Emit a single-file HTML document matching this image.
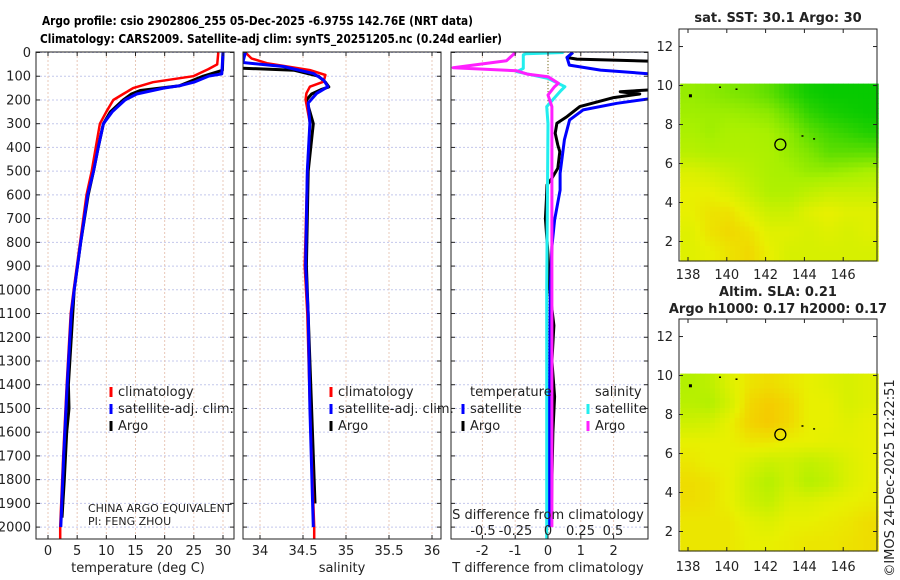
<!DOCTYPE html>
<html><head><meta charset="utf-8"><style>
html,body{margin:0;padding:0;background:#fff}
svg{display:block;font-family:"DejaVu Sans","Liberation Sans",sans-serif}
</style></head><body>
<svg id="fig" width="900" height="580" viewBox="0 0 900 580">
<text x="42" y="25" font-size="12.5" font-weight="bold" textLength="431" lengthAdjust="spacingAndGlyphs">Argo profile: csio 2902806_255 05-Dec-2025 -6.975S 142.76E (NRT data)</text>
<text x="40" y="43" font-size="12.5" font-weight="bold" textLength="462" lengthAdjust="spacingAndGlyphs">Climatology: CARS2009. Satellite-adj clim: synTS_20251205.nc (0.24d earlier)</text>
<g id="root"></g>
</svg>
<script>
// ---------- data ----------
const depthTicks=[0,100,200,300,400,500,600,700,800,900,1000,1100,1200,1300,1400,1500,1600,1700,1800,1900,2000];
const tTicks=[0,5,10,15,20,25,30];
const sTicks=[34,34.5,35,35.5,36];
const sTickLabels=["34","34.5","35","35.5","36"];
const dtTicks=[-2,-1,0,1,2];
const dsTicks=[-0.5,-0.25,0,0.25,0.5];
const dsTickLabels=["-0.5","-0.25","0","0.25","0.5"];

const climTdepth=[0,50,70,100,125,150,175,200,250,300,400,500,600,800,1000,1100,1400,1700,2000,2050];
const climT=[29.2,29,27.5,24.9,18,14.6,12.9,11.2,10,8.9,8.2,7.5,6.6,5.5,4.4,3.9,3.2,2.6,2.1,2.1];
const satTdepth=[0,90,100,125,140,150,175,200,250,300,400,500,600,800,1000,1100,1400,1700,2000];
const satT=[30,29.8,27.5,25,22.6,19.8,15.2,13.2,11,9.5,8.6,7.8,6.8,5.6,4.5,4.0,3.3,2.7,2.2];
const argoTdepth=[0,75,100,140,160,175,200,250,300,400,500,600,800,1000,1200,1400,1500,1600,1800,1960];
const argoT=[30,29.9,26.6,22.6,15.8,14.3,12.9,10.7,9.5,8.6,7.8,6.9,5.6,4.5,4.0,3.5,3.6,3.2,2.8,2.4];

const climSdepth=[0,25,45,74,95,123,144,172,199,297,500,900,1100,1500,2000,2050];
const climS=[33.83,33.9,34.08,34.58,34.76,34.74,34.58,34.54,34.53,34.58,34.55,34.52,34.55,34.58,34.63,34.63];
const satSdepth=[0,42,59,88,116,144,172,213,297,500,900,1100,1500,2000];
const satS=[33.83,33.8,34.27,34.62,34.74,34.79,34.66,34.56,34.58,34.55,34.53,34.56,34.58,34.62];
const argoSdepth=[0,60,66,75,100,125,145,155,175,200,250,300,500,900,1200,1500,1900];
const argoS=[33.5,33.5,33.8,34.4,34.68,34.76,34.8,34.72,34.6,34.54,34.58,34.62,34.56,34.54,34.57,34.6,34.64];

const satDTdepth=[0,21,53,74,91,150,193,214,242,284,368,509,580,706,818,1000,1400,2000];
const satDT=[0.76,0.58,0.65,1.6,3.2,4,3.2,2.1,1.07,0.66,0.5,0.37,0.37,0.2,0.12,0.07,0.05,0.03];
const argoDTdepth=[0,21,28,40,150,165,175,190,228,270,298,340,390,418,488,530,558,620,700,850,1000,1150,1300,1450,1600,1800,1960];
const argoDT=[0.76,0.58,0.88,4,4,2.2,2.8,2.0,0.97,0.58,0.27,0.22,0.3,0.36,0.3,0.12,-0.03,-0.05,-0.08,0.0,0.05,0.18,0.12,0.2,0.15,0.12,0.1];
const satDSdepth=[0,5,10,67,81,109,144,160,228,300,1000,2050];
const satDS=[0.12,-0.17,-0.19,-0.19,-0.24,0.0,0.13,0.1,-0.01,0.0,-0.01,-0.01];
const argoDSdepth=[0,35,64,77,91,102,130,144,179,228,600,1000,1500,2000];
const argoDS=[-0.25,-0.32,-0.73,-0.24,-0.16,0.0,0.08,0.05,0.0,0.03,0.03,0.03,0.03,0.03];

const sstGrid=[
[0.45,0.42,0.38,0.35,0.28,0.15,0.05,0.02,0.02,0.02],
[0.48,0.47,0.47,0.45,0.42,0.3,0.15,0.08,0.05,0.03],
[0.52,0.48,0.52,0.52,0.5,0.42,0.28,0.2,0.15,0.1],
[0.58,0.54,0.54,0.54,0.52,0.45,0.38,0.28,0.28,0.28],
[0.74,0.7,0.64,0.58,0.52,0.5,0.45,0.45,0.48,0.52],
[0.8,0.8,0.74,0.64,0.54,0.54,0.6,0.65,0.65,0.65],
[0.8,0.85,0.86,0.76,0.66,0.66,0.76,0.8,0.76,0.76],
[0.76,0.86,0.9,0.86,0.76,0.76,0.72,0.76,0.72,0.76],
[0.76,0.8,0.86,0.9,0.8,0.72,0.72,0.72,0.72,0.72]];
const slaGrid=[
[0.55,0.6,0.75,0.85,0.88,0.84,0.8,0.76,0.72,0.76],
[0.58,0.55,0.7,0.9,0.95,0.9,0.8,0.8,0.72,0.76],
[0.68,0.7,0.8,0.92,0.96,0.9,0.8,0.8,0.76,0.8],
[0.8,0.8,0.8,0.84,0.84,0.8,0.8,0.78,0.78,0.8],
[0.84,0.8,0.8,0.72,0.66,0.68,0.62,0.66,0.74,0.8],
[0.88,0.86,0.8,0.66,0.56,0.68,0.56,0.62,0.74,0.8],
[0.88,0.86,0.8,0.68,0.62,0.74,0.74,0.78,0.8,0.82],
[0.84,0.84,0.84,0.78,0.74,0.8,0.8,0.82,0.84,0.88],
[0.84,0.84,0.84,0.8,0.8,0.82,0.84,0.84,0.86,0.88]];
const latTicks=[2,4,6,8,10,12];
const lonTicks=[138,140,142,144,146];
const argoLon=142.76, argoLat=6.975;
const markLon=[138.1,139.65,140.5,143.9,144.5];
const markLat=[9.5,9.9,9.8,7.4,7.25];

// ---------- helpers ----------
const NS="http://www.w3.org/2000/svg";
const root=document.getElementById('root');
function mk(tag,attrs,parent){const e=document.createElementNS(NS,tag);for(const k in attrs)e.setAttribute(k,attrs[k]);(parent||root).appendChild(e);return e;}
const Y=d=>52.5+d*0.2373;
const XT=t=>48+t*5.833;
const XS=s=>260+(s-34)*86;
const XDT=v=>548+v*32.8;
const XDS=v=>548+v*130;
const PT=52, PB=539;
const panels=[{x0:36,x1:234,n:'temperature'},{x0:243,x1:441,n:'salinity'},{x0:451,x1:648,n:'difference'}];

const defs=mk('defs',{});
panels.forEach((p,i)=>{const c=mk('clipPath',{id:'clip'+i},defs);mk('rect',{x:p.x0,y:PT,width:p.x1-p.x0,height:PB-PT},c);});

panels.forEach((p,i)=>{
  const g=mk('g',{});
  
  
  depthTicks.forEach(d=>{mk('line',{x1:p.x0,x2:p.x1,y1:Y(d),y2:Y(d),stroke:'#c4c8ec','stroke-width':1,'stroke-dasharray':'2 2'},g);});
  const xs= i==0?tTicks.map(XT): i==1?sTicks.map(XS): dtTicks.map(XDT);
  xs.forEach(x=>{mk('line',{x1:x,x2:x,y1:PT,y2:PB,stroke:'#e8c8b8','stroke-width':1,'stroke-dasharray':'2 2'},g);});
});
const zl=mk('line',{x1:548,x2:548,y1:PT,y2:PB,stroke:'#707020','stroke-width':1,'stroke-dasharray':'1 2'});



function line(xs,ds,xf,color,w,clip,name){
  let pts=xs.map((v,i)=>xf(v).toFixed(1)+','+Y(ds[i]).toFixed(1)).join(' ');
  const e=mk('polyline',{points:pts,fill:'none',stroke:color,'stroke-width':w,'stroke-linejoin':'round','clip-path':'url(#clip'+clip+')'});
  
  
}
line(argoT,argoTdepth,XT,'#000',3,0,'argo-temperature-line');
line(climT,climTdepth,XT,'#f00',2.5,0,'climatology-temperature-line');
line(satT,satTdepth,XT,'#00f',3,0,'satellite-temperature-line');
line(argoS,argoSdepth,XS,'#000',3,1,'argo-salinity-line');
line(climS,climSdepth,XS,'#f00',2.5,1,'climatology-salinity-line');
line(satS,satSdepth,XS,'#00f',3,1,'satellite-salinity-line');
line(argoDT,argoDTdepth,XDT,'#000',3,2,'argo-t-diff-line');
line(satDT,satDTdepth,XDT,'#00f',3,2,'satellite-t-diff-line');
line(satDS,satDSdepth,XDS,'#22eeee',3,2,'satellite-s-diff-line');
line(argoDS,argoDSdepth,XDS,'#ff20ff',3,2,'argo-s-diff-line');

panels.forEach((p,i)=>{
  const f=mk('rect',{x:p.x0,y:PT,width:p.x1-p.x0,height:PB-PT,fill:'none',stroke:'#222','stroke-width':1});
  
  
  depthTicks.forEach(d=>{mk('line',{x1:p.x0,x2:p.x0+4,y1:Y(d),y2:Y(d),stroke:'#222'});mk('line',{x1:p.x1-4,x2:p.x1,y1:Y(d),y2:Y(d),stroke:'#222'});});
  const xs= i==0?tTicks.map(XT): i==1?sTicks.map(XS): dtTicks.map(XDT);
  xs.forEach(x=>{mk('line',{x1:x,x2:x,y1:PB,y2:PB-4,stroke:'#222'});mk('line',{x1:x,x2:x,y1:PT,y2:PT+4,stroke:'#222'});});
});
depthTicks.forEach(d=>{
  const t=mk('text',{x:31,y:Y(d)+4.5,'font-size':13,'text-anchor':'end',fill:'#222'});t.textContent=d;
  
  
});
function txt(x,y,s,size,anchor,name,extra){const t=mk('text',Object.assign({x:x,y:y,'font-size':size,'text-anchor':anchor||'start',fill:'#222'},extra||{}));t.textContent=s;return t;}
tTicks.forEach(v=>txt(XT(v),555,String(v),13,'middle','temperature-tick-label'));
sTicks.forEach((v,i)=>txt(XS(v),555,sTickLabels[i],13,'middle','salinity-tick-label'));
dtTicks.forEach(v=>txt(XDT(v),555,String(v),13,'middle','t-diff-tick-label'));
dsTicks.forEach((v,i)=>txt(XDS(v),535,dsTickLabels[i],13,'middle','s-diff-tick-label'));
txt(138,572,'temperature (deg C)',13,'middle','temperature-axis-title');
txt(342,572,'salinity',13,'middle','salinity-axis-title');
txt(548,572,'T difference from climatology',13,'middle','t-diff-axis-title');
txt(548,519,'S difference from climatology',13,'middle','s-diff-axis-title');
txt(88,512,'CHINA ARGO EQUIVALENT',11,'start','pi-institution');
txt(88,525,'PI: FENG ZHOU',11,'start','pi-name');

function leg(x,y,color,label){const g=mk('g',{});
  mk('line',{x1:x,x2:x,y1:y-9,y2:y+1,stroke:color,'stroke-width':3},g);
  const t=mk('text',{x:x+7,y:y,'font-size':13,fill:'#222'},g);t.textContent=label;}
leg(111,396,'#f00','climatology');leg(111,413,'#00f','satellite-adj. clim.');leg(111,430,'#000','Argo');
leg(331,396,'#f00','climatology');leg(331,413,'#00f','satellite-adj. clim.');leg(331,430,'#000','Argo');
txt(470,396,'temperature',13,'start','legend-temperature-header');
leg(463,413,'#00f','satellite');leg(463,430,'#000','Argo');
txt(595,396,'salinity',13,'start','legend-salinity-header');
leg(588,413,'#22eeee','satellite');leg(588,430,'#ff20ff','Argo');

// ---------- maps ----------
const MX0=679,MX1=877;
const LON=l=>688+(l-138)*19.4;
function lerp(a,b,t){return Math.round(a+(b-a)*t);}
const stops=[[0,[0,200,0]],[0.5,[168,240,0]],[0.8,[232,240,0]],[1,[248,192,0]]];
function cmap(v){v=Math.max(0,Math.min(1,v));for(let i=1;i<stops.length;i++){if(v<=stops[i][0]){const a=stops[i-1],b=stops[i];const t=(v-a[0])/(b[0]-a[0]);return 'rgb('+lerp(a[1][0],b[1][0],t)+','+lerp(a[1][1],b[1][1],t)+','+lerp(a[1][2],b[1][2],t)+')';}}return 'rgb(248,192,0)';}
function sample(grid,fr,fc){ // bilinear on cell centres
  const R=grid.length,C=grid[0].length;
  let r=Math.max(0,Math.min(R-1,fr-0.5)), c=Math.max(0,Math.min(C-1,fc-0.5));
  const r0=Math.floor(r),c0=Math.floor(c),r1=Math.min(R-1,r0+1),c1=Math.min(C-1,c0+1);
  const tr=r-r0,tc=c-c0;
  return grid[r0][c0]*(1-tr)*(1-tc)+grid[r0][c1]*(1-tr)*tc+grid[r1][c0]*tr*(1-tc)+grid[r1][c1]*tr*tc;
}
function map(grid,top,bottom,name,xlabY){
  const LAT=l=>bottom-(l-1.0)*((bottom-top)/11.9);
  const g=mk('g',{});
  const rows=grid.length, cols=grid[0].length, sub=4;
  const lat0=10.1, lat1=1.0, lon0=137.6, lon1=147.8;
  for(let r=0;r<rows*sub;r++)for(let c=0;c<cols*sub;c++){
    const la=lat0-(lat0-lat1)*r/(rows*sub), lb=lat0-(lat0-lat1)*(r+1)/(rows*sub);
    const lo=lon0+(lon1-lon0)*c/(cols*sub), lp=lon0+(lon1-lon0)*(c+1)/(cols*sub);
    const v=sample(grid,(r+0.5)/sub,(c+0.5)/sub);
    const cell=mk('rect',{x:LON(lo).toFixed(1),y:LAT(la).toFixed(1),width:(LON(lp)-LON(lo)+0.6).toFixed(1),height:(LAT(lb)-LAT(la)+0.6).toFixed(1),fill:cmap(v)},g);
    
    
  }
  markLon.forEach((lo,i)=>{mk('rect',{x:LON(lo)-1,y:LAT(markLat[i])-1,width:i==0?3:2,height:i==0?3:1.5,fill:'#000'},g);});
  const c=mk('circle',{cx:LON(argoLon),cy:LAT(argoLat),r:5.5,fill:'none',stroke:'#000','stroke-width':1.3},g);
  
  
  mk('rect',{x:MX0,y:top,width:MX1-MX0,height:bottom-top,fill:'none',stroke:'#222'},g);
  latTicks.forEach(l=>{const y=LAT(l);mk('line',{x1:MX0,x2:MX0+4,y1:y,y2:y,stroke:'#222'},g);mk('line',{x1:MX1-4,x2:MX1,y1:y,y2:y,stroke:'#222'},g);
    txt(673,y+4.5,String(l),13,'end','map-lat-tick-label');});
  lonTicks.forEach(l=>{const x=LON(l);mk('line',{x1:x,x2:x,y1:bottom,y2:bottom-4,stroke:'#222'},g);mk('line',{x1:x,x2:x,y1:top,y2:top+4,stroke:'#222'},g);
    txt(x,xlabY,String(l),13,'middle','map-lon-tick-label');});
}
map(sstGrid,29,261,'sst-map',279);
map(slaGrid,319,551,'sla-map',571);
txt(778,22,'sat. SST: 30.1 Argo: 30',13,'middle','sst-map-title',{'font-weight':'bold'});
txt(778,296,'Altim. SLA: 0.21',13,'middle','sla-map-title',{'font-weight':'bold'});
txt(778,313,'Argo h1000: 0.17 h2000: 0.17',13,'middle','sla-map-subtitle',{'font-weight':'bold'});
txt(0,0,'©IMOS 24-Dec-2025 12:22:51',13,'middle','copyright-timestamp',{transform:'translate(894,478) rotate(-90)'});
</script>
</body></html>
